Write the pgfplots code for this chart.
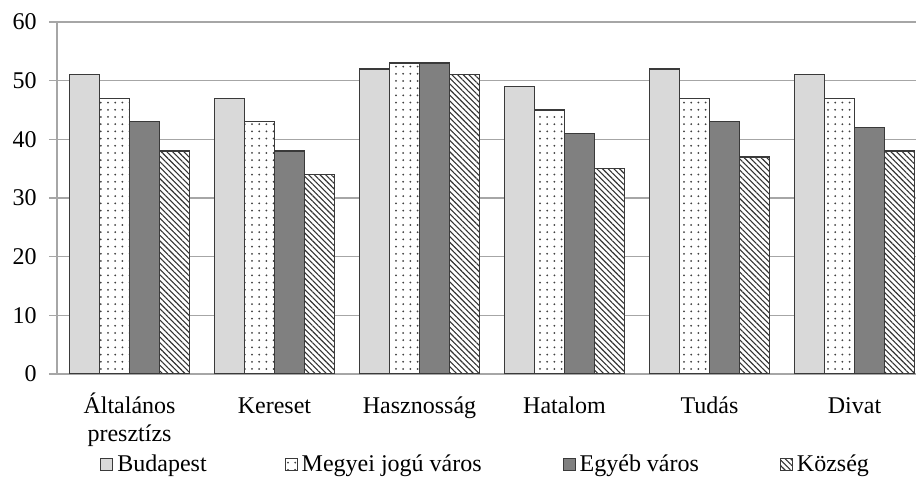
\documentclass[border=0pt]{standalone}
\usepackage{fontspec}
\setmainfont{Liberation Serif}
\usepackage{pgfplots}
\pgfplotsset{compat=1.18}
\usetikzlibrary{patterns.meta}
\definecolor{budap}{HTML}{D9D9D9}
\definecolor{egyeb}{HTML}{808080}
\definecolor{gridc}{HTML}{A6A6A6}
\definecolor{edge}{HTML}{3A3A3A}
\begin{document}
\fontsize{12}{14}\selectfont
\begin{tikzpicture}
\begin{axis}[
  name=ax,
  scale only axis,
  width=429.5pt, height=176pt,
  xmin=-0.5, xmax=5.424,
  ymin=0, ymax=60,
  ytick={0,10,...,60},
  axis lines*=left,
  axis line style={gridc, line width=0.8pt},
  ymajorgrids,
  grid style={gridc, line width=0.8pt},
  ybar=0pt, bar width=15pt,
  xtick={0,...,5},
  xticklabels={{Általános\\presztízs},{\vphantom{Á}Kereset},{\vphantom{Á}Hasznosság},{\vphantom{Á}Hatalom},{\vphantom{Á}Tudás},{\vphantom{Á}Divat}},
  xticklabel style={align=center, anchor=north, yshift=-1.2pt},
  x tick style={draw=none},
  extra x ticks={0.5,1.5,2.5,3.5,4.5},
  extra x tick labels={},
  extra x tick style={grid=none, major tick length=4pt, tick style={gridc, line width=0.8pt, draw=gridc}},
  y tick style={gridc, line width=0.8pt},
  tick align=outside,
  major tick length=4pt,
  yticklabel style={xshift=-2pt},
  /pgf/number format/assume math mode=true,
  ticklabel style={font=\fontsize{12}{14}\selectfont},
  legend columns=4,
  legend style={draw=none, fill=none, at={(0,0)}, anchor=west, xshift=21.5pt, yshift=-45.5pt,
    inner xsep=0pt, font=\fontsize{12}{14}\selectfont,
    /tikz/column 2/.style={column sep=37pt},
    /tikz/column 4/.style={column sep=38.5pt},
    /tikz/column 6/.style={column sep=38.5pt}},
  legend image code/.code={\draw[#1, line width=0.5pt] (0pt,-3pt) rectangle (6pt,3pt);},
  every axis plot/.append style={draw=edge, line width=0.6pt},
]
\addplot[fill=budap] coordinates {(0,51) (1,47) (2,52) (3,49) (4,52) (5,51)};
\addplot[fill=white, postaction={pattern={Dots[distance=3.6pt, radius=0.5pt]}, pattern color=black!75}] coordinates {(0,47) (1,43) (2,53) (3,45) (4,47) (5,47)};
\addplot[fill=egyeb] coordinates {(0,43) (1,38) (2,53) (3,41) (4,43) (5,42)};
\addplot[fill=white, postaction={pattern={Lines[angle=-45, distance=2pt, line width=0.55pt]}, pattern color=black!80}] coordinates {(0,38) (1,34) (2,51) (3,35) (4,37) (5,38)};
\legend{Budapest,Megyei jogú város,Egyéb város,Község}
\end{axis}
\pgfresetboundingbox
\useasboundingbox ([xshift=-28.5pt, yshift=-51.5pt]ax.south west) rectangle ([yshift=11pt]ax.north east);
\end{tikzpicture}
\end{document}
